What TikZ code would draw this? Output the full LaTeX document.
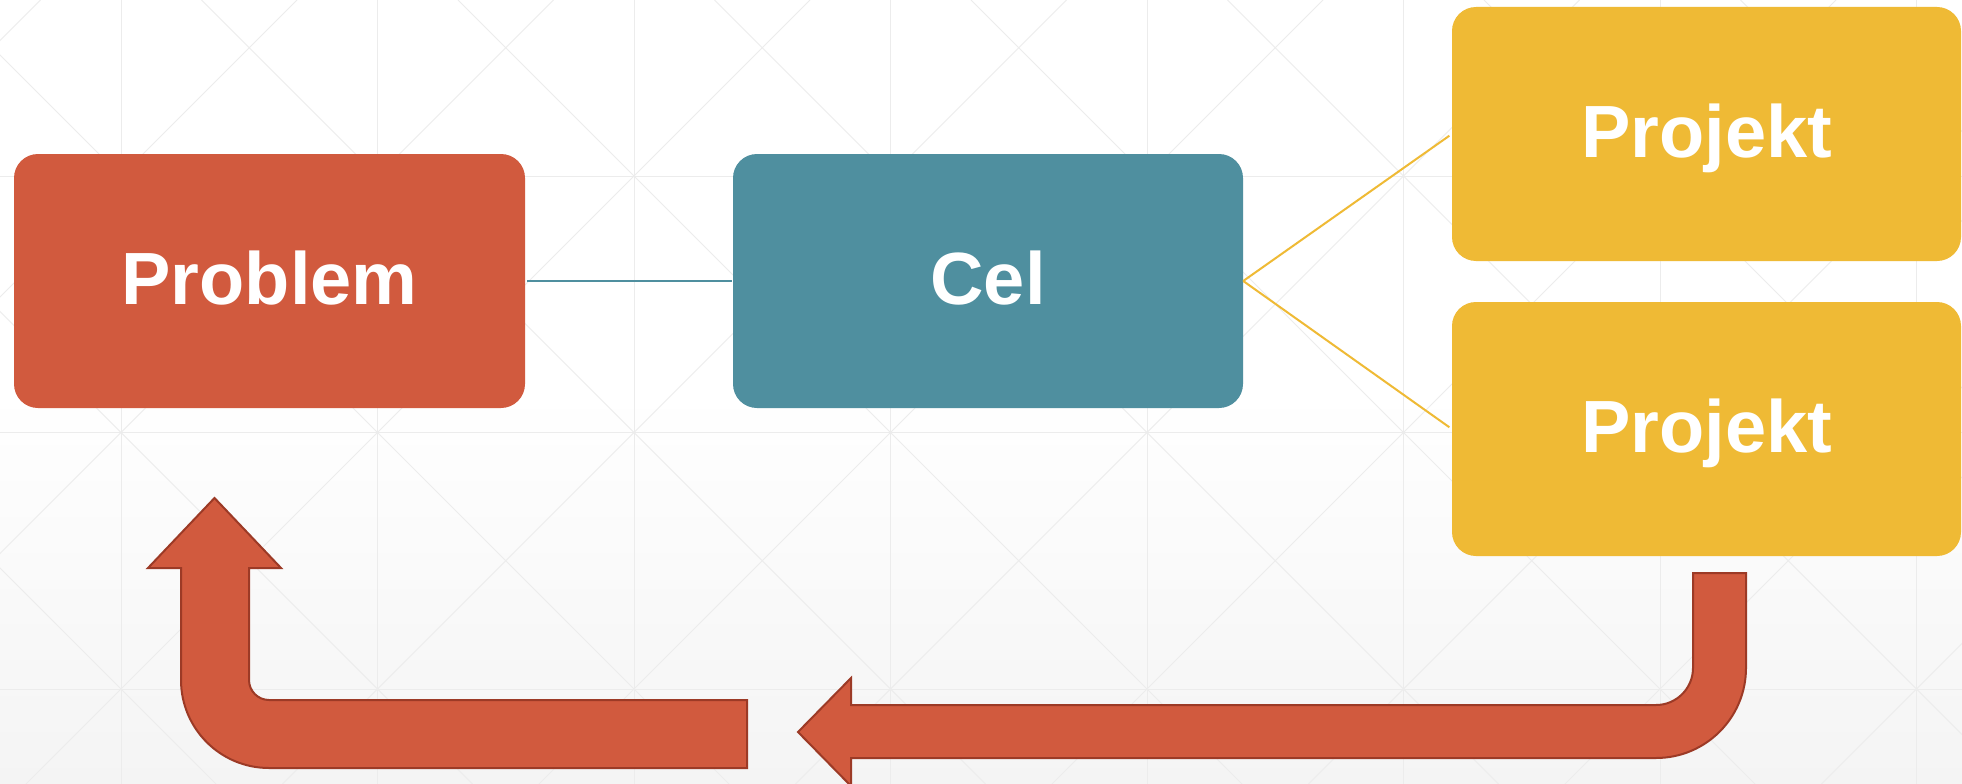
\documentclass[tikz,border=0pt]{standalone}
\usepackage{fontspec}
\setmainfont{Liberation Sans}
\definecolor{redbox}{HTML}{D15A3E}
\definecolor{tealbox}{HTML}{4F8F9F}
\definecolor{yellowbox}{HTML}{EFBA35}
\definecolor{arrowline}{HTML}{9C3A26}
\definecolor{gridline}{HTML}{ECECEC}
\definecolor{bottomgray}{HTML}{F4F4F4}
\begin{document}
\begin{tikzpicture}[x=1pt,y=-1pt,
  box/.style={rounded corners=24pt, minimum width=511pt, minimum height=254pt,
    inner sep=0pt, text=white, text height=62pt, text depth=16pt,
    font=\fontsize{74}{80}\selectfont\bfseries},
  bentarrow/.style={fill=redbox, draw=arrowline, line width=2pt, line join=miter},
  gridstyle/.style={draw=gridline, line width=1pt},
  tealline/.style={draw=tealbox, line width=2.5pt},
  yellowline/.style={draw=yellowbox, line width=2pt}]
\useasboundingbox (0,0) rectangle (1962,784);
% background
\begin{scope}
  \clip (0,0) rectangle (1962,784);
  \fill[white] (0,0) rectangle (1962,392);
  \shade[top color=white, bottom color=bottomgray] (0,391) rectangle (1962,785);
  \foreach \k in {-1,...,7} \draw[gridstyle] ({121+\k*256.5},0) -- ({121+\k*256.5},784);
  \foreach \k in {-1,...,3} \draw[gridstyle] (0,{176+\k*256.5}) -- (1962,{176+\k*256.5});
  \foreach \k in {-2,...,10} \draw[gridstyle] ({297+\k*256.5},0) -- ({297+\k*256.5-784},784);
  \foreach \k in {-3,...,8} \draw[gridstyle] ({-55+\k*256.5},0) -- ({-55+\k*256.5+784},784);
\end{scope}
% boxes
\node[box, fill=redbox] (problem) at (269.5,281) {Problem};
\node[box, fill=tealbox, minimum width=510pt] (cel) at (988,281) {Cel};
\node[box, fill=yellowbox, minimum width=509pt] (p1) at (1706.5,134) {Projekt};
\node[box, fill=yellowbox, minimum width=509pt] (p2) at (1706.5,429) {Projekt};
% connectors
\draw[tealline, shorten <=2pt, shorten >=1pt] (problem.east) -- (cel.west);
\draw[yellowline, shorten >=3pt] (cel.east) -- (p1.west);
\draw[yellowline, shorten >=3pt] (cel.east) -- (p2.west);
% bent arrows
\path[bentarrow] (1693,573) -- (1746,573) -- (1746,668)
  .. controls (1746,717.7) and (1705.7,758) .. (1656,758)
  -- (851,758) -- (851,786) -- (798,732) -- (851,678) -- (851,705)
  -- (1656,705) .. controls (1676.4,705) and (1693,688.4) .. (1693,668) -- cycle;
\path[bentarrow] (181,568) -- (148,568) -- (214.5,498) -- (281,568) -- (249,568)
  -- (249,680) .. controls (249,691) and (258,700) .. (269,700)
  -- (747,700) -- (747,768) -- (269,768)
  .. controls (220.4,768) and (181,728.6) .. (181,680) -- cycle;
\end{tikzpicture}
\end{document}
